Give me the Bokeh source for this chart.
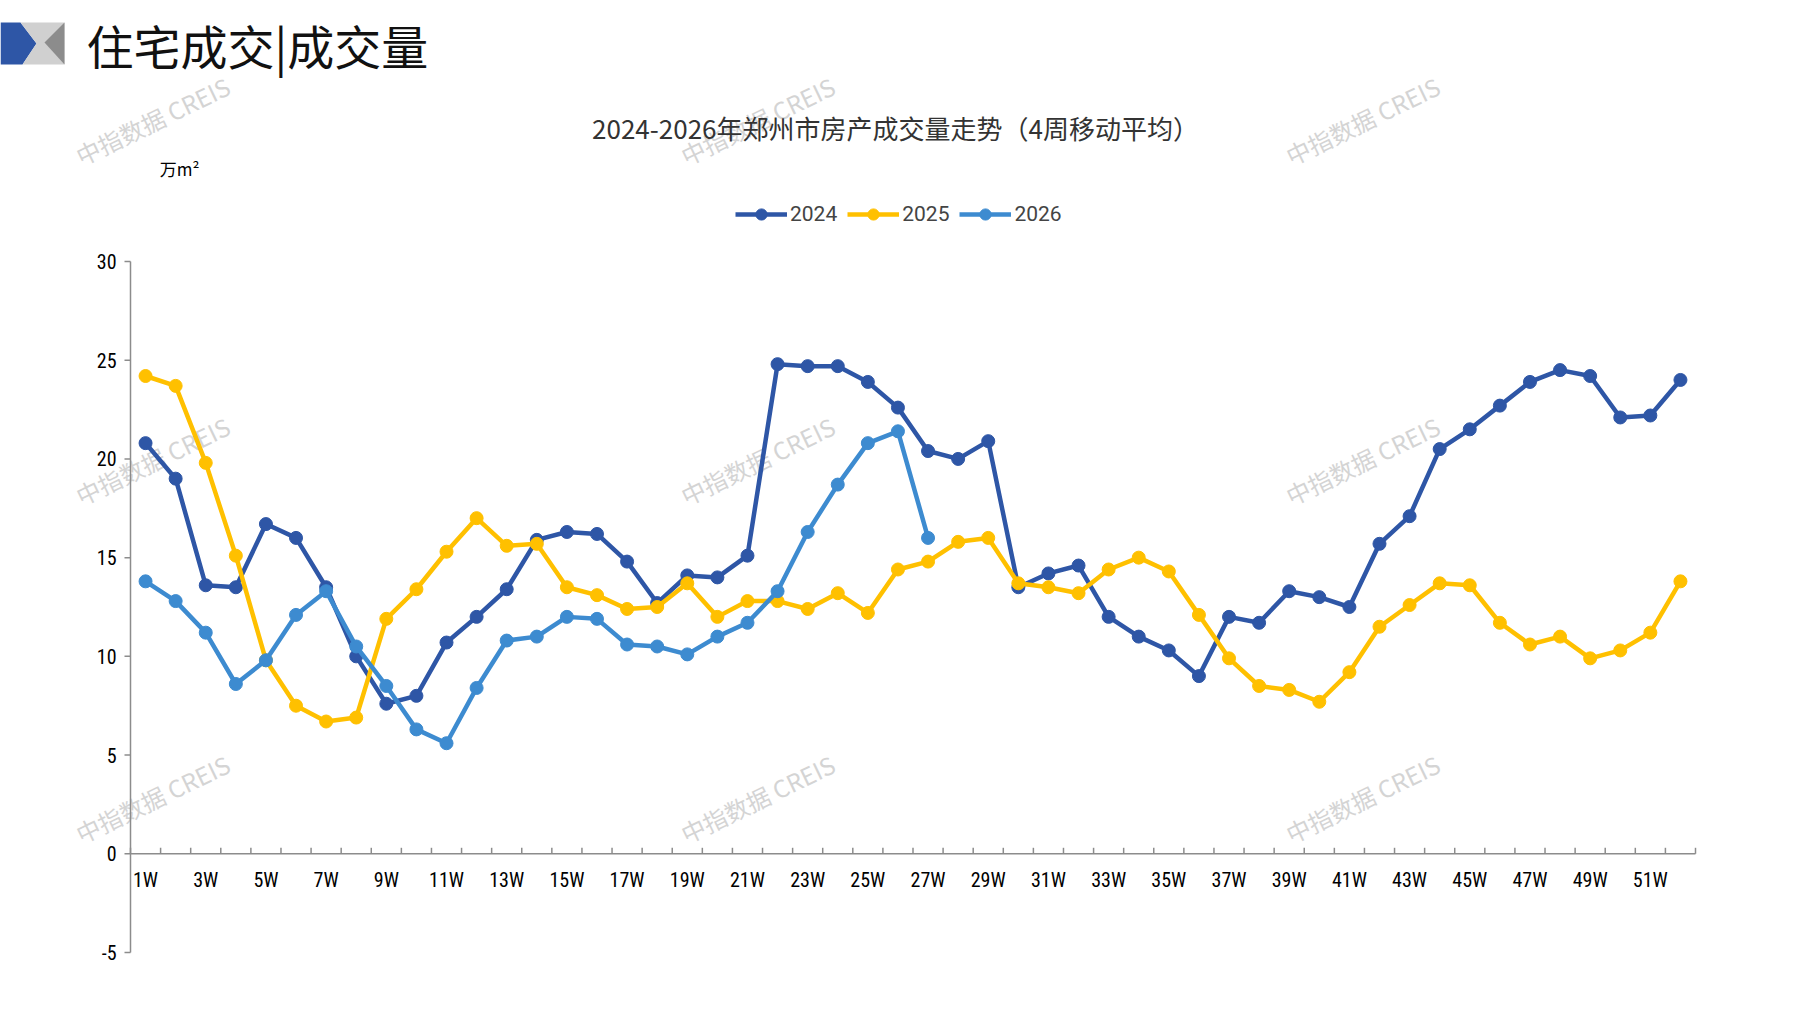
from bokeh.plotting import figure
from bokeh.models import Range1d, Legend, LegendItem
from bokeh.core.properties import value
from bokeh.embed import file_html
from bokeh.resources import INLINE

weeks = list(range(1, 53))
x_ticks = list(range(1, 53, 2))
x_tick_labels = [f"{w}W" for w in x_ticks]
y_ticks = [-5, 0, 5, 10, 15, 20, 25, 30]
y_tick_labels = [str(v) for v in y_ticks]
s2024 = [20.8, 19.0, 13.6, 13.5, 16.7, 16.0, 13.5, 10.0, 7.6, 8.0, 10.7, 12.0, 13.4, 15.9, 16.3, 16.2,
         14.8, 12.7, 14.1, 14.0, 15.1, 24.8, 24.7, 24.7, 23.9, 22.6, 20.4, 20.0, 20.9, 13.5, 14.2, 14.6,
         12.0, 11.0, 10.3, 9.0, 12.0, 11.7, 13.3, 13.0, 12.5, 15.7, 17.1, 20.5, 21.5, 22.7, 23.9, 24.5,
         24.2, 22.1, 22.2, 24.0]
s2025 = [24.2, 23.7, 19.8, 15.1, 9.8, 7.5, 6.7, 6.9, 11.9, 13.4, 15.3, 17.0, 15.6, 15.7, 13.5, 13.1,
         12.4, 12.5, 13.7, 12.0, 12.8, 12.8, 12.4, 13.2, 12.2, 14.4, 14.8, 15.8, 16.0, 13.7, 13.5, 13.2,
         14.4, 15.0, 14.3, 12.1, 9.9, 8.5, 8.3, 7.7, 9.2, 11.5, 12.6, 13.7, 13.6, 11.7, 10.6, 11.0,
         9.9, 10.3, 11.2, 13.8]
s2026 = [13.8, 12.8, 11.2, 8.6, 9.8, 12.1, 13.3, 10.5, 8.5, 6.3, 5.6, 8.4, 10.8, 11.0, 12.0, 11.9,
         10.6, 10.5, 10.1, 11.0, 11.7, 13.3, 16.3, 18.7, 20.8, 21.4, 16.0]
series = [("2024", s2024, "#2E56A6"), ("2025", s2025, "#FFC000"), ("2026", s2026, "#3D8BD0")]

W, H = 1781, 994
PL, PR, PT, PB = 138, 1703, 269, 960
X0, X1, Y0, Y1 = 0.5, 52.5, -5, 30
kx = (X1 - X0) / (PR - PL)
ky = (Y1 - Y0) / (PB - PT)

def dx(px):
    return X0 + (px - PL) * kx
def dy(py):
    return Y1 - (py - PT) * ky

p = figure(width=W, height=H, output_backend="svg", toolbar_location=None,
           x_range=Range1d(dx(8), dx(8 + W)), y_range=Range1d(dy(8 + H), dy(8)),
           min_border=0, x_axis_location=None, y_axis_location=None)
p.outline_line_color = None
p.grid.grid_line_color = None

font = "Noto Sans CJK SC"
axc = "#8C8C8C"

wx, wy = [], []
for cx in (160, 765, 1370):
    for cy in (128, 468, 806):
        wx.append(dx(cx)); wy.append(dy(cy))
p.text(wx, wy, text=["中指数据 CREIS"] * len(wx), text_font=value(font), text_font_size="24px",
       text_color="#D4D4D4", angle=0.45, text_align="center", text_baseline="middle")

p.segment([X0], [Y0], [X0], [Y1], line_color=axc, line_width=1.5)
p.segment([X0], [0], [X1], [0], line_color=axc, line_width=1.5)
p.segment([X0] * len(y_ticks), y_ticks, [X0 - 6 * kx] * len(y_ticks), y_ticks, line_color=axc, line_width=1.5)
bounds = [w + 0.5 for w in range(0, 53)]
p.segment(bounds, [0] * len(bounds), bounds, [6 * ky] * len(bounds), line_color=axc, line_width=1.5)
p.text([X0 - 14 * kx] * len(y_ticks), y_ticks, text=y_tick_labels, text_font=value("Roboto Condensed"),
       text_font_size="20px", text_color="#000000", text_align="right", text_baseline="middle")
p.text(x_ticks, [-26 * ky] * len(x_ticks), text=x_tick_labels, text_font=value("Roboto Condensed"),
       text_font_size="20px", text_color="#000000", text_align="center", text_baseline="middle")

items = []
for name, vals, col in series:
    xs = weeks[:len(vals)]
    r1 = p.line(xs, vals, line_color=col, line_width=4.5)
    r2 = p.scatter(xs, vals, size=13, fill_color=col, line_color=col)
    items.append(LegendItem(label=name, renderers=[r1, r2]))

leg = Legend(items=items, orientation="horizontal", location=(735, 8 + H - 222 - 14),
             label_text_font="Roboto", label_text_font_size="21px", glyph_width=52, glyph_height=28,
             spacing=10, label_standoff=3, border_line_color=None, background_fill_alpha=0,
             padding=0, margin=0)
p.add_layout(leg, "center")

p.text([dx(903)], [dy(135)], text=["2024-2026年郑州市房产成交量走势（4周移动平均）"],
       text_font=value(font), text_font_size="26px", text_color="#333333",
       text_align="center", text_baseline="middle")
p.text([dx(187)], [dy(176)], text=["万m²"], text_font=value(font), text_font_size="17px",
       text_color="#000000", text_align="center", text_baseline="middle")
p.text([dx(94)], [dy(52)], text=["住宅成交|成交量"], text_font=value(font),
       text_font_size="47px", text_color="#111111", text_align="left", text_baseline="middle")

p.patch([dx(8), dx(28), dx(44), dx(30), dx(8)], [dy(30), dy(30), dy(51), dy(72), dy(72)],
        fill_color="#2E56A6", line_alpha=0)
p.patch([dx(28), dx(72), dx(72), dx(30), dx(44)], [dy(30), dy(30), dy(72), dy(72), dy(51)],
        fill_color="#D0D0D0", line_alpha=0)
p.patch([dx(52), dx(72), dx(72)], [dy(50), dy(30), dy(72)], fill_color="#8C8C8C", line_alpha=0)

open("out.html", "w").write(file_html(p, INLINE))
